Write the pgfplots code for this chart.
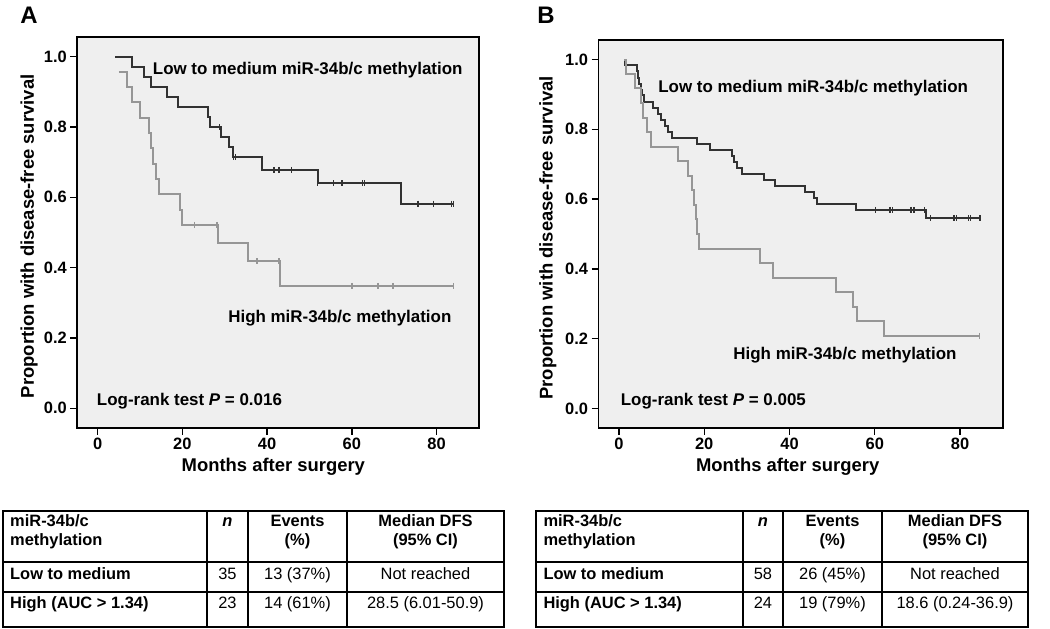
\documentclass[border=0pt]{standalone}
\usepackage{fontspec}
\setmainfont{Liberation Sans}
\usepackage{pgfplots}
\pgfplotsset{compat=1.18}
\definecolor{bgc}{RGB}{239,239,239}
\definecolor{darkc}{RGB}{50,50,50}
\definecolor{lightc}{RGB}{150,150,150}
\pgfplotsset{kmaxis/.style={
  scale only axis, xmin=-4.8, xmax=90, ymin=-0.056, ymax=1.056,
  axis background/.style={fill=bgc},
  axis line style={line width=1.8bp, black},
  xtick={0,20,40,60,80}, ytick={0,0.2,0.4,0.6,0.8,1.0},
  xtick pos=bottom, ytick pos=left, tick align=outside,
  major tick length=7bp,
  tick style={line width=1.3bp, black},
  /pgf/number format/assume math mode=true,
  yticklabel style={/pgf/number format/fixed, /pgf/number format/fixed zerofill, /pgf/number format/precision=1},
  ticklabel style={font=\fontsize{16.5}{18}\selectfont\bfseries},
  label style={font=\fontsize{18.5}{20}\selectfont\bfseries},
  xlabel={Months after surgery}, ylabel={Proportion with disease-free survival},
  dk/.style={const plot, darkc, line width=2bp},
  lt/.style={const plot, lightc, line width=2bp},
  dkm/.style={only marks, mark=|, mark size=3pt, darkc, mark options={line width=1.4bp}},
  ltm/.style={only marks, mark=|, mark size=3pt, lightc, mark options={line width=1.4bp}},
}}
\begin{document}
\begin{tikzpicture}
\path[use as bounding box] (0,0) rectangle (1050bp,629bp);
% Panel A
\begin{axis}[kmaxis, at={(77.3bp,201bp)}, anchor=south west, width=401.7bp, height=391bp,
  xlabel style={at={(axis description cs:0.488,-0.099)}, anchor=center},
  ylabel style={at={(axis description cs:-0.12,0.49)}, anchor=center}]
\addplot[dk] coordinates {(4.1,1.0) (8.0,0.971) (11.0,0.943) (12.7,0.914) (16.4,0.886) (18.9,0.857) (26.1,0.829) (26.5,0.800) (29.2,0.771) (31.0,0.743) (32.0,0.714) (38.7,0.678) (51.9,0.640) (71.5,0.582) (84,0.582)};
\addplot[dkm] coordinates {(28.8,0.800) (32.1,0.714) (32.5,0.714) (41.6,0.678) (42.8,0.678) (45.8,0.678) (51.9,0.640) (55.6,0.640) (57.7,0.640) (62.5,0.640) (63.0,0.640) (75.6,0.582) (79.3,0.582) (83.5,0.582) (84,0.582)};
\addplot[lt] coordinates {(5.0,0.957) (7.0,0.913) (8.2,0.870) (10.0,0.826) (12.1,0.783) (12.6,0.739) (13.1,0.696) (13.8,0.652) (14.5,0.609) (19.4,0.565) (19.8,0.522) (28.4,0.470) (35.6,0.418) (43.0,0.348) (84,0.348)};
\addplot[ltm] coordinates {(22.8,0.522) (28.2,0.522) (37.6,0.418) (42.8,0.418) (60,0.348) (66.2,0.348) (69.7,0.348) (84,0.348)};
\node[anchor=west, inner sep=0, font=\fontsize{17}{19}\selectfont\bfseries] at (axis cs:13.0,0.962) {Low to medium miR-34b/c methylation};
\node[anchor=west, inner sep=0, font=\fontsize{17}{19}\selectfont\bfseries] at (axis cs:30.8,0.256) {High miR-34b/c methylation};
\node[anchor=west, inner sep=0, font=\fontsize{17}{19}\selectfont\bfseries] at (axis cs:-0.2,0.019) {Log-rank test \textit{P} = 0.016};
\end{axis}
% Panel B
\begin{axis}[kmaxis, at={(598.5bp,201bp)}, anchor=south west, width=404.2bp, height=388bp,
  xlabel style={at={(axis description cs:0.468,-0.1)}, anchor=center},
  ylabel style={at={(axis description cs:-0.125,0.49)}, anchor=center}]
\addplot[dk] coordinates {(1.25,1.0) (1.3,0.983) (4.15,0.966) (4.5,0.948) (4.8,0.931) (5.1,0.914) (5.4,0.897) (5.8,0.879) (7.9,0.862) (9.2,0.845) (9.8,0.828) (10.8,0.810) (11.6,0.793) (12.5,0.776) (18.2,0.759) (21.3,0.741) (26.4,0.724) (27.0,0.707) (27.6,0.690) (28.8,0.672) (33.9,0.655) (36.6,0.638) (43.6,0.621) (45.7,0.603) (46.4,0.586) (55.6,0.569) (72.0,0.545) (84.7,0.545)};
\addplot[dkm] coordinates {(60.1,0.569) (63.6,0.569) (64.2,0.569) (68.5,0.569) (69.2,0.569) (71.6,0.569) (73,0.545) (78.6,0.545) (79.2,0.545) (82,0.545) (82.5,0.545) (84.7,0.545)};
\addplot[lt] coordinates {(1.25,1.0) (1.6,0.958) (3.75,0.917) (5.1,0.875) (5.7,0.833) (6.6,0.792) (7.5,0.750) (13.9,0.708) (16.3,0.667) (17.1,0.625) (17.6,0.583) (18.1,0.542) (18.4,0.5) (18.8,0.458) (33.1,0.417) (36.1,0.375) (50.8,0.333) (55.0,0.292) (55.8,0.25) (62.2,0.208) (84.5,0.208)};
\addplot[ltm] coordinates {(84.5,0.208)};
\node[anchor=west, inner sep=0, font=\fontsize{17}{19}\selectfont\bfseries] at (axis cs:9.2,0.917) {Low to medium miR-34b/c methylation};
\node[anchor=west, inner sep=0, font=\fontsize{17}{19}\selectfont\bfseries] at (axis cs:26.8,0.154) {High miR-34b/c methylation};
\node[anchor=west, inner sep=0, font=\fontsize{17}{19}\selectfont\bfseries] at (axis cs:0.4,0.021) {Log-rank test \textit{P} = 0.005};
\end{axis}
% Letters and tables
\begin{scope}[x=1bp, y=-1bp, shift={(0,629bp)}]
\node[font=\fontsize{24}{26}\selectfont\bfseries, inner sep=0] at (29,15) {A};
\node[font=\fontsize{24}{26}\selectfont\bfseries, inner sep=0] at (546,15) {B};
\begin{scope}[every node/.style={inner sep=0, font=\fontsize{16.5}{19}\selectfont}]
% Table A
\draw[line width=2bp] (3,511) rectangle (504,627);
\draw[line width=1.3bp] (3,562) -- (504,562) (3,592) -- (504,592) (207,511) -- (207,627) (248,511) -- (248,627) (347,511) -- (347,627);
\node[anchor=base west] at (10,526.7) {\bfseries miR-34b/c};
\node[anchor=base west] at (10,546) {\bfseries methylation};
\node[anchor=base] at (227.5,526.7) {\bfseries\itshape n};
\node[anchor=base] at (297.5,526.7) {\bfseries Events};
\node[anchor=base] at (297.5,546) {\bfseries (\%)};
\node[anchor=base] at (425.5,526.7) {\bfseries Median DFS};
\node[anchor=base] at (425.5,546) {\bfseries (95\% CI)};
\node[anchor=base west] at (10,580) {\bfseries Low to medium};
\node[anchor=base] at (227.5,580) {35};
\node[anchor=base] at (297.5,580) {13 (37\%)};
\node[anchor=base] at (425.5,580) {Not reached};
\node[anchor=base west] at (10,609) {\bfseries High (AUC > 1.34)};
\node[anchor=base] at (227.5,609) {23};
\node[anchor=base] at (297.5,609) {14 (61\%)};
\node[anchor=base] at (425.5,609) {28.5 (6.01-50.9)};
% Table B
\draw[line width=2bp] (536,511) rectangle (1028,627);
\draw[line width=1.3bp] (536,562) -- (1028,562) (536,592) -- (1028,592) (743,511) -- (743,627) (783,511) -- (783,627) (882,511) -- (882,627);
\node[anchor=base west] at (543.3,526.7) {\bfseries miR-34b/c};
\node[anchor=base west] at (543.3,546) {\bfseries methylation};
\node[anchor=base] at (763,526.7) {\bfseries\itshape n};
\node[anchor=base] at (832.5,526.7) {\bfseries Events};
\node[anchor=base] at (832.5,546) {\bfseries (\%)};
\node[anchor=base] at (955,526.7) {\bfseries Median DFS};
\node[anchor=base] at (955,546) {\bfseries (95\% CI)};
\node[anchor=base west] at (543.3,580) {\bfseries Low to medium};
\node[anchor=base] at (763,580) {58};
\node[anchor=base] at (832.5,580) {26 (45\%)};
\node[anchor=base] at (955,580) {Not reached};
\node[anchor=base west] at (543.3,609) {\bfseries High (AUC > 1.34)};
\node[anchor=base] at (763,609) {24};
\node[anchor=base] at (832.5,609) {19 (79\%)};
\node[anchor=base] at (955,609) {18.6 (0.24-36.9)};
\end{scope}
\end{scope}
\end{tikzpicture}
\end{document}
